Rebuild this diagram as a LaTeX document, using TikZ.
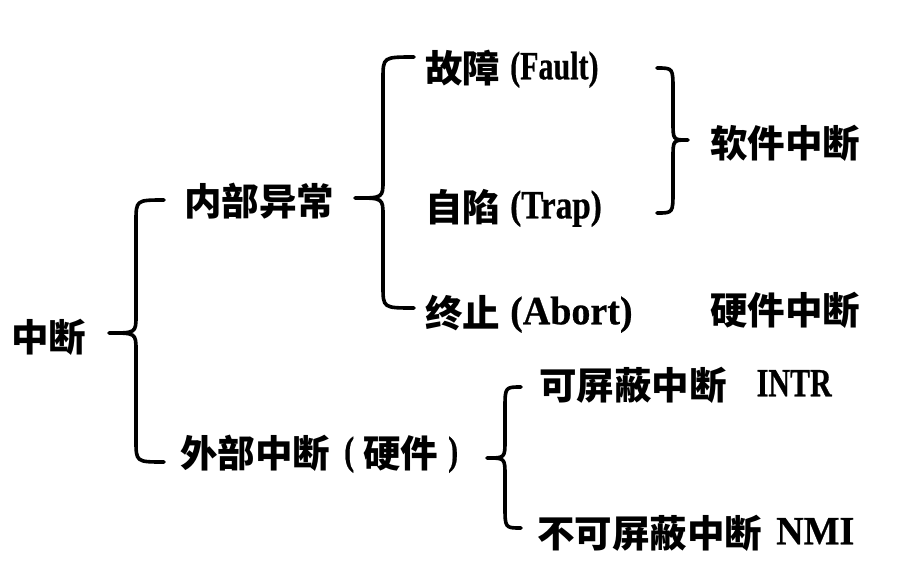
\documentclass[tikz,border=0pt]{standalone}
\usepackage{fontspec}
\newfontfamily\cjk{Noto Sans CJK SC}
\newfontfamily\latnarrow{Liberation Serif}[FakeStretch=0.75, BoldFeatures={FakeBold=0.6}]
\newfontfamily\latmid{Liberation Serif}[FakeStretch=0.83, BoldFeatures={FakeBold=0.6}]
\newfontfamily\latwide{Liberation Serif}[FakeStretch=0.95, BoldFeatures={FakeBold=0.6}]
% Latin text in a given family, raised to sit centred on the CJK glyphs
\newcommand{\lat}[2][\latnarrow]{\raisebox{3pt}{#1\bfseries\fontsize{40}{44}\selectfont #2}}
% curly brace: tip x, tip y, spine x, end x, top y, bottom y
\newcommand{\curlybrace}[6]{%
  \draw[bracepath] (#4,#5) .. controls (#3,#5) .. (#3,#5+22)
    -- (#3,#2-18) .. controls (#3,#2) .. (#1,#2)
    .. controls (#3,#2) .. (#3,#2+18)
    -- (#3,#6-22) .. controls (#3,#6) .. (#4,#6);}
\begin{document}
\begin{tikzpicture}[x=1pt,y=-1pt]
\tikzset{
  lbl/.style={anchor=west, inner sep=0pt,
    font=\cjk\bfseries\fontsize{37.5}{40}\selectfont,
    text height=33pt, text depth=4.5pt},
  bracepath/.style={line width=3.6pt, line cap=round, line join=round}
}
\fill[white] (0,0) rectangle (912,574);
\useasboundingbox (0,0) rectangle (912,574);

% labels
\node[lbl] (root)  at (11,337)  {中断};
\node[lbl] (inner) at (184,201) {内部异常};
\node[lbl] (outer) at (180,453)
  {外部中断\hspace{14pt}\lat{(}\hspace{9pt}硬件\hspace{10pt}\lat{)}};
\node[lbl] (fault) at (425,68)  {故障\hspace{10pt}\lat{(Fault)}};
\node[lbl] (trap)  at (425,207) {自陷\hspace{10pt}\lat[\latmid]{(Trap)}};
\node[lbl] (abort) at (425,313) {终止\hspace{10pt}\lat[\latwide]{(Abort)}};
\node[lbl] (soft)  at (710,143) {软件中断};
\node[lbl] (hard)  at (710,310) {硬件中断};
\node[lbl] (intr)  at (539,385) {可屏蔽中断\hspace{30pt}\lat{INTR}};
\node[lbl] (nmi)   at (537,533) {不可屏蔽中断\hspace{14pt}\lat[\latwide]{NMI}};

% braces
\curlybrace{109}{333}{136}{164}{200}{462}
\curlybrace{355}{198}{383}{414}{57}{308}
\curlybrace{688}{140}{673}{657}{68}{213}
\curlybrace{487}{458}{505}{521}{387}{528}
\end{tikzpicture}
\end{document}
